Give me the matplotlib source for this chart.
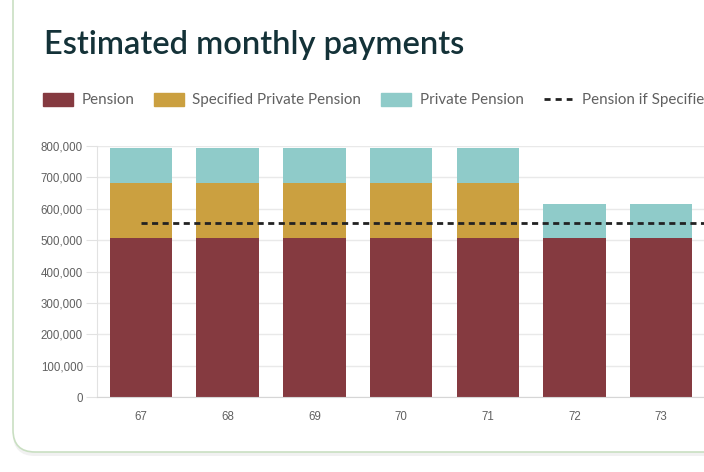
import numpy as np
import matplotlib
matplotlib.use('Agg')
import matplotlib.pyplot as plt
import matplotlib.patches as mpatches
from matplotlib.lines import Line2D
from matplotlib.legend_handler import HandlerLine2D
from matplotlib.ticker import FuncFormatter, MultipleLocator
from matplotlib.transforms import IdentityTransform

ages = ['67', '68', '69', '70', '71', '72', '73']
pension = [507000, 507000, 507000, 507000, 507000, 507000, 507000]
specified = [176000, 176000, 176000, 176000, 176000, 0, 0]
private = [110000, 110000, 110000, 110000, 110000, 109000, 109000]
pension_if_specified = [553000, 553000, 553000, 553000, 553000, 553000, 553000]

c_pension = '#853a40'
c_specified = '#cba040'
c_private = '#8fcbc9'
grey_text = '#606060'


class ShortDash(HandlerLine2D):
    # the dashed legend key is shorter than the colour boxes
    def create_artists(self, legend, orig_handle, xdescent, ydescent, width, height, fontsize, trans):
        short = 20.5
        return super().create_artists(legend, orig_handle, xdescent - (width - short) / 2,
                                      ydescent, short, height, fontsize, trans)


fig = plt.figure(figsize=(7.04, 4.72), dpi=100)
fig.patch.set_facecolor('white')

# card background
shadow = mpatches.FancyBboxPatch((13, 16), 900, 500, boxstyle='round,pad=0,rounding_size=22',
                                 transform=IdentityTransform(), facecolor='#f1f1f1',
                                 edgecolor='none', zorder=-3)
card = mpatches.FancyBboxPatch((13, 20), 900, 500, boxstyle='round,pad=0,rounding_size=22',
                               transform=IdentityTransform(), facecolor='white',
                               edgecolor='#c9dfc2', linewidth=1.2, zorder=-2)
fig.patches.extend([shadow, card])

ax = fig.add_axes([96.7 / 704, 75 / 472, (704 - 96.7) / 704, 251 / 472])
ax.set_facecolor('none')

x = np.arange(len(ages))
w = 0.72
bottom2 = np.array(pension)
bottom3 = bottom2 + np.array(specified)
ax.bar(x, pension, w, color=c_pension, zorder=2)
ax.bar(x, specified, w, bottom=bottom2, color=c_specified, zorder=2)
ax.bar(x, private, w, bottom=bottom3, color=c_private, zorder=2)
ax.plot(list(x) + [x[-1] + 1], pension_if_specified + [pension_if_specified[-1]],
        color='#222222', linestyle=(0, (2.2, 1.6)), linewidth=2.0, zorder=3)

ax.set_xlim(-0.51, -0.51 + (704 - 96.7) / 86.7)
ax.set_ylim(0, 800000)
ax.set_xticks(x)
ax.set_xticklabels(ages)
ax.yaxis.set_major_locator(MultipleLocator(100000))
ax.yaxis.set_major_formatter(FuncFormatter(lambda v, p: f'{int(v):,}'))
ax.grid(axis='y', color='#e9e9e9', linewidth=1, zorder=0)
ax.set_axisbelow(True)
for s in ['top', 'right']:
    ax.spines[s].set_visible(False)
ax.spines['left'].set_color('#e2e2e2')
ax.spines['bottom'].set_color('#d6d6d6')
ax.tick_params(axis='y', length=8, color='#e2e2e2', labelsize=8.3, labelcolor=grey_text, pad=2)
ax.tick_params(axis='x', length=0, labelsize=8.3, labelcolor=grey_text, pad=10)
for lab in ax.get_xticklabels() + ax.get_yticklabels():
    lab.set_family('Liberation Sans')

fig.text(44 / 704, (472 - 54.3) / 472, 'Estimated monthly payments', fontsize=23.5,
         family='Lato', weight='semibold', color='#143238', va='baseline')

dash_key = Line2D([0], [0], color='#222222', linestyle=(0, (2.2, 1.8)), linewidth=2,
                  label='Pension if Specified Private Pension is not taken')
handles = [mpatches.Patch(color=c_pension, label='Pension'),
           mpatches.Patch(color=c_specified, label='Specified Private Pension'),
           mpatches.Patch(color=c_private, label='Private Pension'),
           dash_key]
leg = fig.legend(handles=handles, loc='center left', bbox_to_anchor=(29 / 704, (472 - 100) / 472),
                 ncol=4, frameon=False, handlelength=2.0, handleheight=1.0,
                 handletextpad=0.55, columnspacing=1.3, handler_map={dash_key: ShortDash()},
                 prop={'family': 'Lato', 'size': 10.9})
for t in leg.get_texts():
    t.set_color(grey_text)

fig.savefig('out.png', dpi=100)
